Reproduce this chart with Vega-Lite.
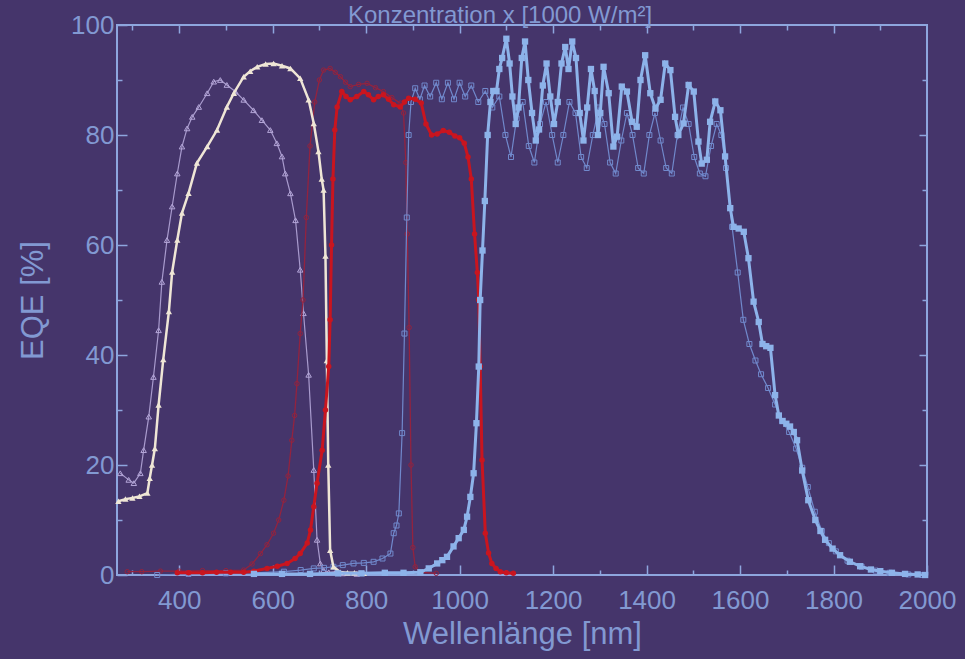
{
  "$schema": "https://vega.github.io/schema/vega-lite/v6.json",
  "width": 810,
  "height": 550,
  "autosize": {"type": "none"},
  "padding": {"left": 117, "top": 25, "right": 38, "bottom": 84},
  "background": "#45356b",
  "config": {
    "view": {"stroke": "#8ea6de", "strokeWidth": 2},
    "axis": {
      "domain": false,
      "grid": false,
      "tickColor": "#8ea6de",
      "tickWidth": 1.5,
      "labelColor": "#8299d2",
      "labelFont": "Liberation Sans",
      "labelFontSize": 26,
      "titleColor": "#8299d2",
      "titleFont": "Liberation Sans",
      "titleFontSize": 31,
      "titleFontWeight": "normal",
      "labelOverlap": false,
      "labelBound": false,
      "labelFlush": false,
      "format": "d"
    }
  },
  "title": {
    "text": "Konzentration x [1000 W/m²]",
    "font": "Liberation Sans",
    "fontSize": 24,
    "fontWeight": "normal",
    "color": "#8299d2",
    "anchor": "middle",
    "baseline": "alphabetic",
    "offset": 0,
    "dy": 35,
    "dx": -22
  },
  "datasets": {
    "top_conc": [
      {"nm": 270, "eqe": 13.4}, {"nm": 285, "eqe": 13.8}, {"nm": 300, "eqe": 14}, {"nm": 315, "eqe": 14.3}, {"nm": 332, "eqe": 14.9},
      {"nm": 337, "eqe": 17.6}, {"nm": 342, "eqe": 20}, {"nm": 348, "eqe": 23}, {"nm": 356, "eqe": 30.9}, {"nm": 366, "eqe": 39.2},
      {"nm": 378, "eqe": 47.9}, {"nm": 385, "eqe": 55.1}, {"nm": 396, "eqe": 60.9}, {"nm": 406, "eqe": 65.8}, {"nm": 420, "eqe": 69.4},
      {"nm": 438, "eqe": 74.9}, {"nm": 460, "eqe": 77.9}, {"nm": 481, "eqe": 80.9}, {"nm": 502, "eqe": 85.1}, {"nm": 517, "eqe": 87.6},
      {"nm": 538, "eqe": 90.6}, {"nm": 552, "eqe": 91.6}, {"nm": 567, "eqe": 92.4}, {"nm": 585, "eqe": 92.9}, {"nm": 602, "eqe": 93},
      {"nm": 620, "eqe": 92.6}, {"nm": 638, "eqe": 92.1}, {"nm": 659, "eqe": 90.3}, {"nm": 677, "eqe": 86.4}, {"nm": 688, "eqe": 82.1},
      {"nm": 698, "eqe": 77}, {"nm": 705, "eqe": 72}, {"nm": 709, "eqe": 70}, {"nm": 713, "eqe": 58}, {"nm": 716, "eqe": 39},
      {"nm": 719, "eqe": 20}, {"nm": 723, "eqe": 4.5}, {"nm": 730, "eqe": 1.5}, {"nm": 745, "eqe": 0.5}, {"nm": 760, "eqe": 0.4},
      {"nm": 775, "eqe": 0.4}, {"nm": 795, "eqe": 0.3}
    ],
    "top_1sun": [
      {"nm": 274, "eqe": 18.5}, {"nm": 292, "eqe": 17.3}, {"nm": 303, "eqe": 16.7}, {"nm": 317, "eqe": 18.5}, {"nm": 324, "eqe": 22.7},
      {"nm": 335, "eqe": 28.8}, {"nm": 345, "eqe": 36}, {"nm": 356, "eqe": 44.5}, {"nm": 363, "eqe": 53.3}, {"nm": 374, "eqe": 60.9},
      {"nm": 385, "eqe": 67}, {"nm": 396, "eqe": 73}, {"nm": 406, "eqe": 77.9}, {"nm": 417, "eqe": 81.2}, {"nm": 428, "eqe": 83.3},
      {"nm": 442, "eqe": 85.1}, {"nm": 460, "eqe": 87.6}, {"nm": 474, "eqe": 89.7}, {"nm": 488, "eqe": 90}, {"nm": 502, "eqe": 89.1},
      {"nm": 520, "eqe": 87.9}, {"nm": 538, "eqe": 86.4}, {"nm": 559, "eqe": 84.5}, {"nm": 577, "eqe": 82.7}, {"nm": 595, "eqe": 80.9},
      {"nm": 609, "eqe": 78.5}, {"nm": 620, "eqe": 76.1}, {"nm": 627, "eqe": 73}, {"nm": 638, "eqe": 69.4}, {"nm": 649, "eqe": 64.5},
      {"nm": 659, "eqe": 55.5}, {"nm": 666, "eqe": 47.6}, {"nm": 677, "eqe": 36.4}, {"nm": 688, "eqe": 19.1}, {"nm": 695, "eqe": 6.4},
      {"nm": 702, "eqe": 2.1}, {"nm": 709, "eqe": 0.9}, {"nm": 720, "eqe": 0.5}, {"nm": 735, "eqe": 0.6}, {"nm": 750, "eqe": 0.3},
      {"nm": 780, "eqe": 0.2}
    ],
    "mid_conc": [
      {"nm": 396, "eqe": 0.4}, {"nm": 420, "eqe": 0.4}, {"nm": 450, "eqe": 0.4}, {"nm": 480, "eqe": 0.5}, {"nm": 510, "eqe": 0.5},
      {"nm": 538, "eqe": 0.5}, {"nm": 560, "eqe": 0.7}, {"nm": 588, "eqe": 1.2}, {"nm": 610, "eqe": 1.6}, {"nm": 631, "eqe": 2.1},
      {"nm": 648, "eqe": 3}, {"nm": 659, "eqe": 3.9}, {"nm": 674, "eqe": 5.8}, {"nm": 681, "eqe": 8.2}, {"nm": 688, "eqe": 12.4},
      {"nm": 695, "eqe": 16.7}, {"nm": 706, "eqe": 22.7}, {"nm": 713, "eqe": 30}, {"nm": 720, "eqe": 37.9}, {"nm": 723, "eqe": 46.4},
      {"nm": 726, "eqe": 60}, {"nm": 729, "eqe": 72}, {"nm": 733, "eqe": 80.9}, {"nm": 738, "eqe": 85.1}, {"nm": 748, "eqe": 87.9},
      {"nm": 757, "eqe": 87}, {"nm": 766, "eqe": 86.4}, {"nm": 780, "eqe": 87}, {"nm": 795, "eqe": 87.9}, {"nm": 805, "eqe": 87.3},
      {"nm": 816, "eqe": 86.4}, {"nm": 826, "eqe": 87}, {"nm": 837, "eqe": 87.3}, {"nm": 848, "eqe": 86.5}, {"nm": 859, "eqe": 85.5},
      {"nm": 873, "eqe": 85.1}, {"nm": 882, "eqe": 86}, {"nm": 891, "eqe": 86.7}, {"nm": 905, "eqe": 86.5}, {"nm": 918, "eqe": 85.8},
      {"nm": 928, "eqe": 82}, {"nm": 940, "eqe": 80}, {"nm": 952, "eqe": 80.2}, {"nm": 965, "eqe": 80.8}, {"nm": 978, "eqe": 80.5},
      {"nm": 990, "eqe": 79.8}, {"nm": 1000, "eqe": 79.5}, {"nm": 1010, "eqe": 78.5}, {"nm": 1018, "eqe": 76}, {"nm": 1025, "eqe": 72},
      {"nm": 1032, "eqe": 62}, {"nm": 1038, "eqe": 55}, {"nm": 1041, "eqe": 50}, {"nm": 1044, "eqe": 37.9}, {"nm": 1048, "eqe": 20.9},
      {"nm": 1055, "eqe": 7.6}, {"nm": 1062, "eqe": 4}, {"nm": 1069, "eqe": 2.1}, {"nm": 1078, "eqe": 1.2}, {"nm": 1087, "eqe": 0.6},
      {"nm": 1100, "eqe": 0.4}, {"nm": 1115, "eqe": 0.3}
    ],
    "mid_1sun": [
      {"nm": 289, "eqe": 0.6}, {"nm": 320, "eqe": 0.6}, {"nm": 360, "eqe": 0.7}, {"nm": 400, "eqe": 0.7}, {"nm": 450, "eqe": 0.8},
      {"nm": 500, "eqe": 0.8}, {"nm": 538, "eqe": 0.9}, {"nm": 556, "eqe": 2}, {"nm": 574, "eqe": 3.9}, {"nm": 588, "eqe": 5.5},
      {"nm": 602, "eqe": 7.6}, {"nm": 613, "eqe": 10}, {"nm": 624, "eqe": 13.6}, {"nm": 633, "eqe": 18}, {"nm": 641, "eqe": 24.5},
      {"nm": 647, "eqe": 29}, {"nm": 652, "eqe": 34.8}, {"nm": 659, "eqe": 43.9}, {"nm": 665, "eqe": 50}, {"nm": 672, "eqe": 65},
      {"nm": 680, "eqe": 78}, {"nm": 690, "eqe": 86}, {"nm": 700, "eqe": 90}, {"nm": 709, "eqe": 91.8}, {"nm": 723, "eqe": 92.1},
      {"nm": 734, "eqe": 91.4}, {"nm": 745, "eqe": 90.6}, {"nm": 756, "eqe": 89.6}, {"nm": 766, "eqe": 88.8}, {"nm": 784, "eqe": 89.2},
      {"nm": 802, "eqe": 89.4}, {"nm": 820, "eqe": 88.6}, {"nm": 837, "eqe": 87.9}, {"nm": 855, "eqe": 86.8}, {"nm": 873, "eqe": 85.8},
      {"nm": 880, "eqe": 84}, {"nm": 885, "eqe": 75}, {"nm": 888, "eqe": 62}, {"nm": 892, "eqe": 45}, {"nm": 896, "eqe": 20},
      {"nm": 900, "eqe": 5}, {"nm": 905, "eqe": 1.5}, {"nm": 915, "eqe": 0.5}, {"nm": 950, "eqe": 0.3}
    ],
    "bot_conc": [
      {"nm": 560, "eqe": 0.2}, {"nm": 620, "eqe": 0.2}, {"nm": 680, "eqe": 0.2}, {"nm": 740, "eqe": 0.3}, {"nm": 790, "eqe": 0.3},
      {"nm": 840, "eqe": 0.4}, {"nm": 880, "eqe": 0.4}, {"nm": 916, "eqe": 0.5}, {"nm": 934, "eqe": 1.2}, {"nm": 952, "eqe": 2.1},
      {"nm": 963, "eqe": 2.7}, {"nm": 973, "eqe": 3.3}, {"nm": 987, "eqe": 5.2}, {"nm": 998, "eqe": 6.7}, {"nm": 1009, "eqe": 8.2},
      {"nm": 1016, "eqe": 10.6}, {"nm": 1023, "eqe": 14.2}, {"nm": 1030, "eqe": 18.5}, {"nm": 1036, "eqe": 27.6}, {"nm": 1041, "eqe": 37.9},
      {"nm": 1044, "eqe": 50}, {"nm": 1049, "eqe": 59}, {"nm": 1054, "eqe": 68}, {"nm": 1060, "eqe": 80}, {"nm": 1066, "eqe": 86},
      {"nm": 1072, "eqe": 88}, {"nm": 1079, "eqe": 88}, {"nm": 1085, "eqe": 92}, {"nm": 1091, "eqe": 94}, {"nm": 1100, "eqe": 97.5},
      {"nm": 1107, "eqe": 93}, {"nm": 1113, "eqe": 87}, {"nm": 1120, "eqe": 82}, {"nm": 1126, "eqe": 85}, {"nm": 1133, "eqe": 94},
      {"nm": 1140, "eqe": 97}, {"nm": 1147, "eqe": 90}, {"nm": 1155, "eqe": 84}, {"nm": 1163, "eqe": 79}, {"nm": 1170, "eqe": 81},
      {"nm": 1178, "eqe": 89}, {"nm": 1186, "eqe": 93}, {"nm": 1194, "eqe": 87}, {"nm": 1202, "eqe": 82}, {"nm": 1210, "eqe": 86},
      {"nm": 1218, "eqe": 93}, {"nm": 1226, "eqe": 96}, {"nm": 1233, "eqe": 92}, {"nm": 1241, "eqe": 97}, {"nm": 1249, "eqe": 94},
      {"nm": 1257, "eqe": 84}, {"nm": 1265, "eqe": 79}, {"nm": 1273, "eqe": 85}, {"nm": 1281, "eqe": 92}, {"nm": 1289, "eqe": 88},
      {"nm": 1296, "eqe": 80}, {"nm": 1301, "eqe": 84}, {"nm": 1308, "eqe": 92.4}, {"nm": 1319, "eqe": 87.6}, {"nm": 1329, "eqe": 77.9},
      {"nm": 1337, "eqe": 79.7}, {"nm": 1347, "eqe": 88.8}, {"nm": 1358, "eqe": 87.9}, {"nm": 1369, "eqe": 82.4}, {"nm": 1379, "eqe": 81.5},
      {"nm": 1387, "eqe": 90}, {"nm": 1397, "eqe": 94.5}, {"nm": 1408, "eqe": 87.6}, {"nm": 1419, "eqe": 84.8}, {"nm": 1430, "eqe": 86.4},
      {"nm": 1440, "eqe": 93}, {"nm": 1451, "eqe": 91.8}, {"nm": 1461, "eqe": 83.3}, {"nm": 1468, "eqe": 80}, {"nm": 1479, "eqe": 82.1},
      {"nm": 1490, "eqe": 89.1}, {"nm": 1501, "eqe": 87.9}, {"nm": 1511, "eqe": 78.8}, {"nm": 1518, "eqe": 74.8}, {"nm": 1529, "eqe": 75.5},
      {"nm": 1536, "eqe": 82.4}, {"nm": 1547, "eqe": 86.1}, {"nm": 1558, "eqe": 84.5}, {"nm": 1568, "eqe": 76.1}, {"nm": 1579, "eqe": 66.7},
      {"nm": 1586, "eqe": 63.3}, {"nm": 1597, "eqe": 63}, {"nm": 1608, "eqe": 62.4}, {"nm": 1618, "eqe": 57.6}, {"nm": 1629, "eqe": 49.7},
      {"nm": 1640, "eqe": 46}, {"nm": 1648, "eqe": 42}, {"nm": 1656, "eqe": 41.6}, {"nm": 1665, "eqe": 41.3}, {"nm": 1675, "eqe": 32.7},
      {"nm": 1683, "eqe": 29}, {"nm": 1691, "eqe": 28}, {"nm": 1699, "eqe": 27.5}, {"nm": 1707, "eqe": 27}, {"nm": 1715, "eqe": 26},
      {"nm": 1722, "eqe": 24.5}, {"nm": 1733, "eqe": 19}, {"nm": 1746, "eqe": 13.6}, {"nm": 1761, "eqe": 10}, {"nm": 1772, "eqe": 8},
      {"nm": 1782, "eqe": 6.4}, {"nm": 1798, "eqe": 4.8}, {"nm": 1814, "eqe": 3.6}, {"nm": 1835, "eqe": 2.4}, {"nm": 1857, "eqe": 1.6},
      {"nm": 1880, "eqe": 1}, {"nm": 1900, "eqe": 0.7}, {"nm": 1925, "eqe": 0.4}, {"nm": 1953, "eqe": 0.2}, {"nm": 1980, "eqe": 0.1},
      {"nm": 1996, "eqe": 0}
    ],
    "bot_1sun": [
      {"nm": 353, "eqe": 0}, {"nm": 420, "eqe": 0.2}, {"nm": 500, "eqe": 0.3}, {"nm": 560, "eqe": 0.4}, {"nm": 624, "eqe": 0.6},
      {"nm": 660, "eqe": 0.9}, {"nm": 688, "eqe": 1.2}, {"nm": 710, "eqe": 1.3}, {"nm": 730, "eqe": 1.5}, {"nm": 750, "eqe": 1.8},
      {"nm": 773, "eqe": 2.1}, {"nm": 795, "eqe": 2.2}, {"nm": 816, "eqe": 2.4}, {"nm": 835, "eqe": 3}, {"nm": 852, "eqe": 3.9},
      {"nm": 859, "eqe": 7.6}, {"nm": 865, "eqe": 9}, {"nm": 870, "eqe": 11.2}, {"nm": 877, "eqe": 25.8}, {"nm": 882, "eqe": 43.9},
      {"nm": 887, "eqe": 65}, {"nm": 891, "eqe": 80}, {"nm": 896, "eqe": 86}, {"nm": 905, "eqe": 88.5}, {"nm": 915, "eqe": 86.5},
      {"nm": 925, "eqe": 89}, {"nm": 937, "eqe": 87}, {"nm": 950, "eqe": 89.5}, {"nm": 962, "eqe": 86.5}, {"nm": 975, "eqe": 89.5},
      {"nm": 988, "eqe": 86.5}, {"nm": 1000, "eqe": 89.5}, {"nm": 1012, "eqe": 87}, {"nm": 1025, "eqe": 89}, {"nm": 1040, "eqe": 86},
      {"nm": 1055, "eqe": 88}, {"nm": 1070, "eqe": 85}, {"nm": 1085, "eqe": 87}, {"nm": 1098, "eqe": 80}, {"nm": 1110, "eqe": 76},
      {"nm": 1122, "eqe": 83}, {"nm": 1135, "eqe": 86}, {"nm": 1148, "eqe": 78}, {"nm": 1160, "eqe": 75}, {"nm": 1172, "eqe": 82},
      {"nm": 1185, "eqe": 86}, {"nm": 1198, "eqe": 80}, {"nm": 1210, "eqe": 75}, {"nm": 1222, "eqe": 80}, {"nm": 1235, "eqe": 86},
      {"nm": 1248, "eqe": 84}, {"nm": 1260, "eqe": 76}, {"nm": 1272, "eqe": 74}, {"nm": 1285, "eqe": 80}, {"nm": 1298, "eqe": 85},
      {"nm": 1310, "eqe": 82}, {"nm": 1322, "eqe": 75}, {"nm": 1334, "eqe": 73}, {"nm": 1346, "eqe": 79}, {"nm": 1358, "eqe": 84},
      {"nm": 1370, "eqe": 80}, {"nm": 1382, "eqe": 74}, {"nm": 1394, "eqe": 73}, {"nm": 1406, "eqe": 80}, {"nm": 1418, "eqe": 84},
      {"nm": 1430, "eqe": 79}, {"nm": 1442, "eqe": 74}, {"nm": 1454, "eqe": 73}, {"nm": 1466, "eqe": 80}, {"nm": 1478, "eqe": 85},
      {"nm": 1490, "eqe": 82}, {"nm": 1502, "eqe": 76}, {"nm": 1514, "eqe": 73}, {"nm": 1526, "eqe": 72.5}, {"nm": 1538, "eqe": 78},
      {"nm": 1550, "eqe": 82}, {"nm": 1560, "eqe": 80}, {"nm": 1570, "eqe": 74}, {"nm": 1583, "eqe": 63.3}, {"nm": 1595, "eqe": 55},
      {"nm": 1607, "eqe": 46.4}, {"nm": 1620, "eqe": 42}, {"nm": 1633, "eqe": 39}, {"nm": 1645, "eqe": 36.5}, {"nm": 1660, "eqe": 34},
      {"nm": 1675, "eqe": 31}, {"nm": 1690, "eqe": 28}, {"nm": 1705, "eqe": 26}, {"nm": 1720, "eqe": 23}, {"nm": 1733, "eqe": 19.5},
      {"nm": 1745, "eqe": 16}, {"nm": 1760, "eqe": 11.5}, {"nm": 1775, "eqe": 8}, {"nm": 1790, "eqe": 5.8}, {"nm": 1805, "eqe": 4.3},
      {"nm": 1830, "eqe": 2.6}, {"nm": 1860, "eqe": 1.5}, {"nm": 1890, "eqe": 0.8}, {"nm": 1920, "eqe": 0.4}, {"nm": 1960, "eqe": 0.1},
      {"nm": 1990, "eqe": 0}
    ]
  },
  "layer": [
    {
      "data": {"name": "top_conc"},
      "transform": [{"filter": "false"}],
      "mark": {"type": "point", "opacity": 0},
      "encoding": {
        "x": {"field": "nm", "type": "quantitative", "scale": {"domain": [267, 2000], "nice": false, "zero": false},
              "axis": {"orient": "bottom", "values": [400, 600, 800, 1000, 1200, 1400, 1600, 1800, 2000], "tickSize": -10, "labelPadding": 22, "title": "Wellenlänge [nm]", "titlePadding": 6}},
        "y": {"field": "eqe", "type": "quantitative", "scale": {"domain": [0, 100], "nice": false, "zero": false},
              "axis": {"orient": "left", "values": [0, 20, 40, 60, 80, 100], "tickSize": -10, "labelPadding": 13, "title": "EQE [%]", "titlePadding": 21}}
      }
    },
    {
      "data": {"name": "top_conc"},
      "transform": [{"filter": "false"}],
      "mark": {"type": "point", "opacity": 0},
      "encoding": {
        "x": {"field": "nm", "type": "quantitative", "scale": {"domain": [267, 2000], "nice": false, "zero": false},
              "axis": {"orient": "bottom", "values": [300, 500, 700, 900, 1100, 1300, 1500, 1700, 1900], "tickSize": -5, "labels": false, "title": null}},
        "y": {"field": "eqe", "type": "quantitative", "scale": {"domain": [0, 100], "nice": false, "zero": false},
              "axis": {"orient": "left", "values": [10, 30, 50, 70, 90], "tickSize": -5, "labels": false, "title": null}}
      }
    },
    {
      "data": {"name": "top_conc"},
      "transform": [{"filter": "false"}],
      "mark": {"type": "point", "opacity": 0},
      "encoding": {
        "x": {"field": "nm", "type": "quantitative", "scale": {"domain": [267, 2000], "nice": false, "zero": false},
              "axis": {"orient": "top", "values": [400, 600, 800, 1000, 1200, 1400, 1600, 1800], "tickSize": -8, "labels": false, "title": null}},
        "y": {"field": "eqe", "type": "quantitative", "scale": {"domain": [0, 100], "nice": false, "zero": false},
              "axis": {"orient": "right", "values": [20, 40, 60, 80], "tickSize": -8, "labels": false, "title": null}}
      }
    },
    {
      "data": {"name": "top_conc"},
      "transform": [{"filter": "false"}],
      "mark": {"type": "point", "opacity": 0},
      "encoding": {
        "x": {"field": "nm", "type": "quantitative", "scale": {"domain": [267, 2000], "nice": false, "zero": false},
              "axis": {"orient": "top", "values": [300, 500, 700, 900, 1100, 1300, 1500, 1700, 1900], "tickSize": -5, "labels": false, "title": null}},
        "y": {"field": "eqe", "type": "quantitative", "scale": {"domain": [0, 100], "nice": false, "zero": false},
              "axis": {"orient": "right", "values": [10, 30, 50, 70, 90], "tickSize": -5, "labels": false, "title": null}}
      }
    },
    {
      "data": {"name": "top_1sun"},
      "mark": {"type": "line", "color": "#b4a6d8", "strokeWidth": 1.2, "opacity": 0.9,
               "point": {"shape": "triangle-up", "filled": false, "size": 30, "strokeWidth": 1, "color": "#b4a6d8"}},
      "encoding": {
        "x": {"field": "nm", "type": "quantitative", "scale": {"domain": [267, 2000], "nice": false, "zero": false}, "axis": null},
        "y": {"field": "eqe", "type": "quantitative", "scale": {"domain": [0, 100], "nice": false, "zero": false}, "axis": null}
      }
    },
    {
      "data": {"name": "mid_1sun"},
      "mark": {"type": "line", "color": "#93233f", "strokeWidth": 1.3,
               "point": {"shape": "circle", "filled": false, "size": 20, "strokeWidth": 1, "color": "#93233f"}},
      "encoding": {
        "x": {"field": "nm", "type": "quantitative", "scale": {"domain": [267, 2000], "nice": false, "zero": false}, "axis": null},
        "y": {"field": "eqe", "type": "quantitative", "scale": {"domain": [0, 100], "nice": false, "zero": false}, "axis": null}
      }
    },
    {
      "data": {"name": "bot_1sun"},
      "mark": {"type": "line", "color": "#7189cc", "strokeWidth": 1.2,
               "point": {"shape": "square", "filled": false, "size": 25, "strokeWidth": 1, "color": "#7189cc"}},
      "encoding": {
        "x": {"field": "nm", "type": "quantitative", "scale": {"domain": [267, 2000], "nice": false, "zero": false}, "axis": null},
        "y": {"field": "eqe", "type": "quantitative", "scale": {"domain": [0, 100], "nice": false, "zero": false}, "axis": null}
      }
    },
    {
      "data": {"name": "top_conc"},
      "mark": {"type": "line", "color": "#efe6d6", "strokeWidth": 2.5,
               "point": {"shape": "triangle-up", "filled": true, "size": 40, "color": "#efe6d6"}},
      "encoding": {
        "x": {"field": "nm", "type": "quantitative", "scale": {"domain": [267, 2000], "nice": false, "zero": false}, "axis": null},
        "y": {"field": "eqe", "type": "quantitative", "scale": {"domain": [0, 100], "nice": false, "zero": false}, "axis": null}
      }
    },
    {
      "data": {"name": "mid_conc"},
      "mark": {"type": "line", "color": "#c9151f", "strokeWidth": 3,
               "point": {"shape": "circle", "filled": true, "size": 30, "color": "#c9151f"}},
      "encoding": {
        "x": {"field": "nm", "type": "quantitative", "scale": {"domain": [267, 2000], "nice": false, "zero": false}, "axis": null},
        "y": {"field": "eqe", "type": "quantitative", "scale": {"domain": [0, 100], "nice": false, "zero": false}, "axis": null}
      }
    },
    {
      "data": {"name": "bot_conc"},
      "mark": {"type": "line", "color": "#8db3ea", "strokeWidth": 3,
               "point": {"shape": "square", "filled": true, "size": 40, "color": "#8db3ea"}},
      "encoding": {
        "x": {"field": "nm", "type": "quantitative", "scale": {"domain": [267, 2000], "nice": false, "zero": false}, "axis": null},
        "y": {"field": "eqe", "type": "quantitative", "scale": {"domain": [0, 100], "nice": false, "zero": false}, "axis": null}
      }
    }
  ],
  "resolve": {"axis": {"x": "independent", "y": "independent"}}
}
